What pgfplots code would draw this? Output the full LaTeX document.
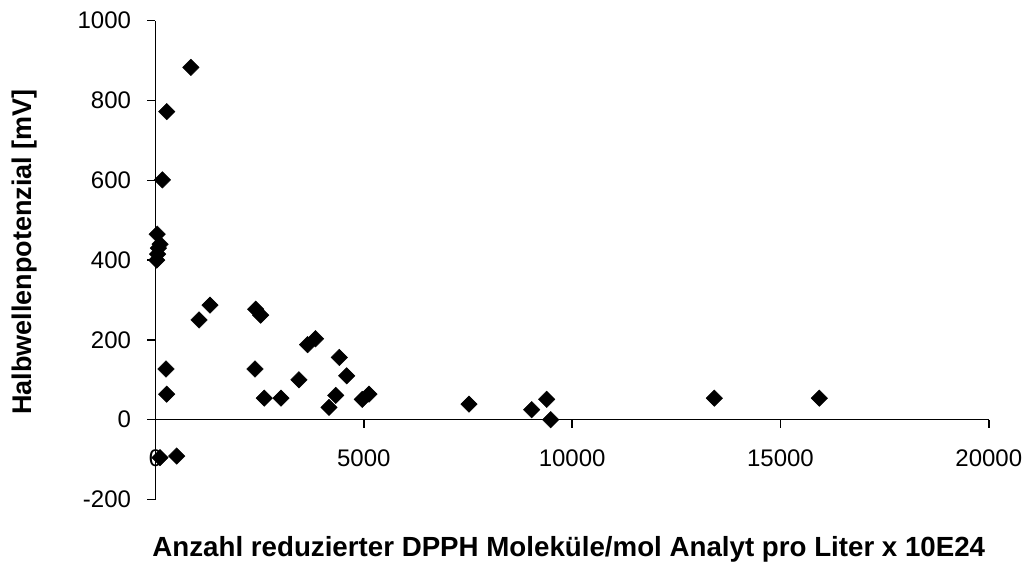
\documentclass[border=0pt]{standalone}
\usepackage{fontspec}
\setmainfont{Liberation Sans}
\usepackage{pgfplots}
\pgfplotsset{compat=1.18}

% Halbwellenpotenzial gegen Anzahl reduzierter DPPH-Moleküle
\pgfplotstableread{
x y
850 883
270 772
165 601
40 465
110 440
70 430
50 415
30 400
1045 250
1308 287
252 127
269 64
108 -95
509 -91
2405 277
2525 262
2388 127
2611 54
3012 54
3444 100
3650 188
3840 203
4411 156
4589 110
4164 31
4325 61
4963 51
5124 64
7524 39
9029 25
9389 51
9485 0
13412 54
15932 54
}\messdaten

\begin{document}
\begin{tikzpicture}
\path[use as bounding box] (-155.5pt,-63.7pt) rectangle (870.5pt,499.5pt);
\begin{axis}[
  at={(0,0)}, anchor=south west,
  scale only axis, width=833.3pt, height=478.8pt,
  xmin=0, xmax=20000, ymin=-200, ymax=1000,
  axis x line=middle, axis y line=left,
  axis line style={-, black, line width=1.4pt},
  xtick={0,5000,...,20000}, ytick={-200,0,...,1000},
  scaled x ticks=false, scaled y ticks=false,
  tick align=outside, major tick length=8pt,
  tick style={black, line width=1.4pt},
  hide obscured x ticks=false, hide obscured y ticks=false,
  /pgf/number format/assume math mode=true,
  /pgf/number format/1000 sep={},
  tick label style={font=\fontsize{24}{28}\selectfont},
  xticklabel style={yshift=-19pt},
  yticklabel style={xshift=-13pt},
  xlabel={Anzahl reduzierter DPPH Moleküle/mol Analyt pro Liter x 10E24},
  ylabel={Halbwellenpotenzial [mV]},
  every axis x label/.style={at={(axis description cs:0.496,-0.104)}, anchor=center,
    font=\bfseries\fontsize{27.7}{32}\selectfont},
  every axis y label/.style={at={(axis description cs:-0.1567,0.517)}, anchor=center, rotate=90,
    font=\bfseries\fontsize{27}{32}\selectfont},
  clip=false,
]
\addplot[only marks, mark=square*, mark size=5.8pt,
  mark options={rotate=45, fill=black, draw=black, line width=0.5pt}]
  table {\messdaten};
\end{axis}
\end{tikzpicture}
\end{document}
